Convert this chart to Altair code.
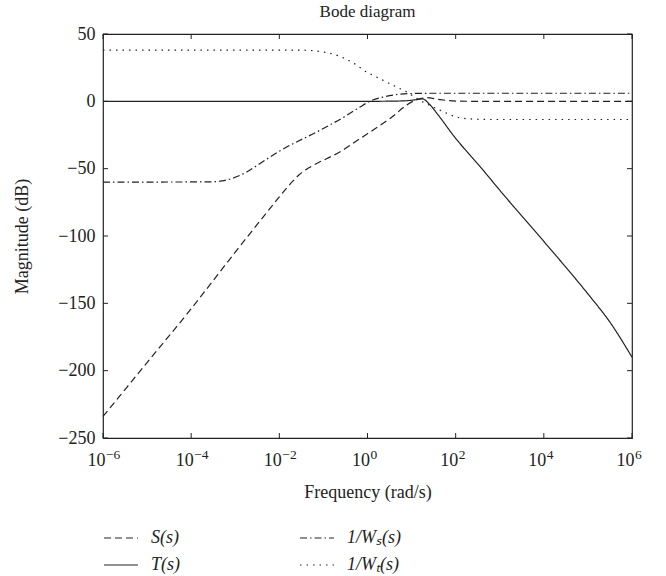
import altair as alt
import pandas as pd

# Frequencies as log10(rad/s), magnitudes in dB
S_logw = [-6, -5, -4, -3, -2, -1.85, -1.7, -1.55, -1.4, -1.23, -0.63, -0.17, 0.5, 1.03, 1.2, 1.35, 1.6, 2.0, 2.5, 6]
S_db = [-234, -194, -154, -112, -71, -65, -59.5, -54.5, -50.8, -47.5, -37.6, -27.7, -13, 0, 2, 2.7, 1.5, 0.2, 0, 0]

T_logw = [-6, 0, 0.8, 1.1, 1.25, 1.4, 1.6, 1.94, 2.62, 3, 4, 5, 5.5, 6]
T_db = [0, 0, 0.3, 1.2, 1.8, -2, -10, -25, -51, -66, -104, -143, -164, -190]

Ws_logw = [-6, -3.6, -3.3, -3.05, -2.74, -2.5, -2, -1.08, -0.5, -0.17, 0.05, 0.4, 0.9, 1.5, 6]
Ws_db = [-60, -59.8, -59, -57, -52.5, -47.5, -37, -21.5, -11, -4.2, 0, 3.5, 5.7, 6, 6]

Wt_logw = [-6, -1.5, -1.2, -0.9, -0.63, -0.3, -0.02, 0.3, 0.58, 0.89, 1.2, 1.57, 2.02, 2.4, 2.8, 6]
Wt_db = [38, 38, 37.5, 36, 33.4, 28, 21.8, 16.5, 11.9, 6.9, 0.5, -5.4, -11.6, -13.2, -13.5, -13.5]

series_names = ["S(s)", "1/W\u209b(s)", "T(s)", "1/W\u209c(s)"]
x_ticks = [-6, -4, -2, 0, 2, 4, 6]
x_exponents = ["\u22126", "\u22124", "\u22122", "0", "2", "4", "6"]
y_ticks = [50, 0, -50, -100, -150, -200, -250]

rows = []
for name, xs, ys in [
    (series_names[0], S_logw, S_db),
    (series_names[2], T_logw, T_db),
    (series_names[1], Ws_logw, Ws_db),
    (series_names[3], Wt_logw, Wt_db),
]:
    for i, (a, b) in enumerate(zip(xs, ys)):
        rows.append({"series": name, "logw": a, "db": b, "order": i})
df = pd.DataFrame(rows)

W, H = 529, 404
FONT = "Liberation Serif"
INK = "#222222"
FS = 18

x_scale = alt.Scale(domain=[-6, 6], nice=False, zero=False)
y_scale = alt.Scale(domain=[-250, 50], nice=False, zero=False)

lines = alt.Chart(df).mark_line(strokeWidth=1.2, color=INK, interpolate="monotone").encode(
    x=alt.X("logw:Q", scale=x_scale,
            axis=alt.Axis(values=x_ticks, labelExpr="'10'", title="Frequency (rad/s)",
                          ticks=False, domain=False, grid=False, labelPadding=13,
                          labelFontSize=FS, titleFontSize=FS, titlePadding=14,
                          labelFlush=False, labelAlign="right", labelOffset=2,
                          labelFont=FONT, titleFont=FONT,
                          labelColor=INK, titleColor=INK, titleFontWeight="normal")),
    y=alt.Y("db:Q", scale=y_scale,
            axis=alt.Axis(values=y_ticks, title="Magnitude (dB)", ticks=False, domain=False,
                          grid=False, labelPadding=8, labelFontSize=FS, titleFontSize=FS,
                          titlePadding=26, labelFlush=False, labelFont=FONT, titleFont=FONT,
                          labelColor=INK, titleColor=INK, titleFontWeight="normal")),
    strokeDash=alt.StrokeDash(
        "series:N",
        scale=alt.Scale(domain=series_names,
                        range=[[7, 4], [7, 3, 1.5, 3], [1, 0], [1.5, 5]]),
        legend=alt.Legend(title=None, orient="none", legendX=0, legendY=486, columns=2,
                          direction="horizontal", symbolType="stroke", symbolSize=1150,
                          symbolStrokeColor=INK, symbolStrokeWidth=1.2,
                          labelFontSize=FS, labelFont=FONT, labelFontStyle="italic",
                          labelColor=INK, columnPadding=116, rowPadding=0, gridAlign="each",
                          labelOffset=12, padding=0),
    ),
    order="order:Q",
    detail="series:N",
)

xt = pd.DataFrame({"v": x_ticks, "e": x_exponents})
yt = pd.DataFrame({"v": y_ticks})
TL = 5
tick_bottom = alt.Chart(xt).mark_rule(color=INK).encode(
    x=alt.X("v:Q", scale=x_scale), y=alt.value(H), y2=alt.value(H - TL))
tick_top = alt.Chart(xt).mark_rule(color=INK).encode(
    x=alt.X("v:Q", scale=x_scale), y=alt.value(0), y2=alt.value(TL))
tick_left = alt.Chart(yt).mark_rule(color=INK).encode(
    y=alt.Y("v:Q", scale=y_scale), x=alt.value(0), x2=alt.value(TL))
tick_right = alt.Chart(yt).mark_rule(color=INK).encode(
    y=alt.Y("v:Q", scale=y_scale), x=alt.value(W), x2=alt.value(W - TL))
exps = alt.Chart(xt).mark_text(font=FONT, fontSize=13.5, color=INK, align="left",
                               baseline="alphabetic", dx=3).encode(
    x=alt.X("v:Q", scale=x_scale), y=alt.value(H + 21), text="e:N")

chart = alt.layer(lines, tick_bottom, tick_top, tick_left, tick_right, exps).properties(
    width=W, height=H,
    title=alt.Title("Bode diagram", fontSize=17, font=FONT, fontWeight="normal",
                    color=INK, anchor="middle", offset=4),
    autosize=alt.AutoSizeParams(type="none"),
    padding={"left": 103, "top": 34, "right": 34, "bottom": 138},
    background="white",
).configure_view(stroke=INK, strokeWidth=1.2)

chart.save("out.html", embed_options={"renderer": "svg", "actions": False})
